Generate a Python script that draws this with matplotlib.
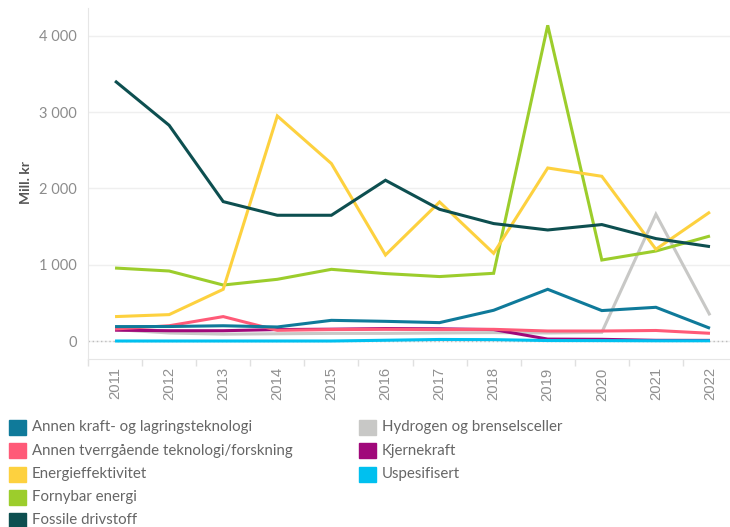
import matplotlib
matplotlib.use("Agg")
import matplotlib.pyplot as plt
from matplotlib.patches import Rectangle
from matplotlib.ticker import FuncFormatter, FixedLocator

years = [2011, 2012, 2013, 2014, 2015, 2016, 2017, 2018, 2019, 2020, 2021, 2022]

series_names = [
    "Annen kraft- og lagringsteknologi",
    "Annen tverrgående teknologi/forskning",
    "Energieffektivitet",
    "Fornybar energi",
    "Fossile drivstoff",
    "Hydrogen og brenselsceller",
    "Kjernekraft",
    "Uspesifisert",
]
colors = ["#0f7a9a", "#ff5a78", "#fdd13f", "#9ccd2c", "#0d4f50",
          "#c8c8c6", "#a0087a", "#00c0ef"]

annen_kraft = [189, 190, 200, 184, 271, 258, 241, 403, 678, 399, 442, 167]
annen_tverr = [158, 200, 320, 140, 150, 153, 150, 153, 131, 131, 138, 101]
energieff = [320, 346, 678, 2951, 2327, 1128, 1823, 1150, 2269, 2160, 1203, 1692]
fornybar = [957, 918, 734, 809, 940, 884, 845, 888, 4140, 1062, 1180, 1377]
fossile = [3410, 2829, 1828, 1649, 1649, 2108, 1727, 1540, 1456, 1527, 1343, 1238]
hydrogen = [150, 105, 90, 95, 100, 100, 105, 110, 105, 114, 1662, 337]
kjernekraft = [142, 135, 135, 150, 155, 163, 160, 150, 25, 22, 9, 8]
uspesifisert = [0, 0, 0, 0, 0, 10, 20, 18, 6, 5, 3, 3]

values = [annen_kraft, annen_tverr, energieff, fornybar, fossile,
          hydrogen, kjernekraft, uspesifisert]
draw_order = [5, 6, 1, 0, 3, 2, 4, 7]

W, H = 730, 527
fig = plt.figure(figsize=(W / 100, H / 100), dpi=100)
plt.rcParams['font.family'] = ['Lato', 'DejaVu Sans']

ax_l, ax_r, ax_t, ax_b = 88, 730, 8, 359
ax = fig.add_axes([ax_l / W, 1 - ax_b / H, (ax_r - ax_l) / W, (ax_b - ax_t) / H])

for i in draw_order:
    ax.plot(years, values[i], color=colors[i], lw=2.2, solid_joinstyle='miter',
            solid_capstyle='butt', zorder=3)

ax.set_xlim(2010.5, 2022.37)
ax.set_ylim(-236, 4367)

ax.set_yticks([0, 1000, 2000, 3000, 4000])
ax.yaxis.set_major_formatter(FuncFormatter(lambda v, p: f"{int(v):,}".replace(",", " ")))
ax.grid(axis='y', color='#efefef', lw=1)
ax.axhline(0, color='#bdbdbd', lw=1, ls=(0, (1, 2)), zorder=2)
ax.set_axisbelow(True)

ax.set_xticks(years)
ax.set_xticklabels([str(y) for y in years], rotation=90,
                   family=['Liberation Sans', 'DejaVu Sans'])
ax.xaxis.set_minor_locator(FixedLocator([y - 0.5 for y in years] + [2022.5]))
ax.tick_params(axis='x', which='major', length=0, pad=6, labelsize=10.7, labelcolor='#909090')
ax.tick_params(axis='x', which='minor', length=5, color='#e0e0e0', width=1)
ax.tick_params(axis='y', length=0, pad=8, labelsize=10.5, labelcolor='#8c8c8c')

for s in ['top', 'right']:
    ax.spines[s].set_visible(False)
ax.spines['left'].set_color('#e6e6e6')
ax.spines['bottom'].set_color('#e6e6e6')

fig.text(25.5 / W, 1 - 182 / H, "Mill. kr", rotation=90, ha='center', va='center',
         fontsize=10, fontweight='bold', color='#555555')

# Legend (manual, two columns: 5 + 3)
rows_y = [427, 450.5, 474, 497.5, 520.5]
cols = [(9, 32), (359, 382)]
for k, (name, c) in enumerate(zip(series_names, colors)):
    col = 0 if k < 5 else 1
    row = k if k < 5 else k - 5
    sx, tx = cols[col]
    y = rows_y[row]
    fig.patches.append(Rectangle((sx / W, 1 - (y + 7.5) / H), 17 / W, 15 / H,
                                 transform=fig.transFigure, color=c, figure=fig))
    fig.text(tx / W, 1 - y / H, name, ha='left', va='center', fontsize=10.8,
             color='#666666')

fig.savefig("out.png", dpi=100)
